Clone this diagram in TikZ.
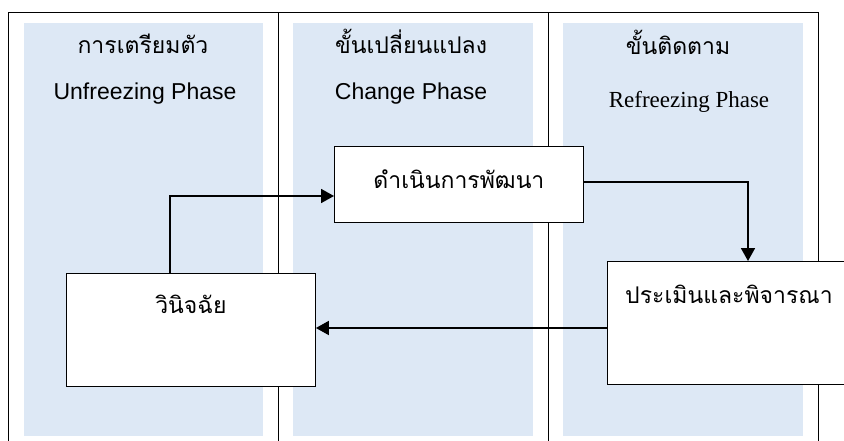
\documentclass[tikz,border=0pt]{standalone}
\usepackage{fontspec}
\setmainfont{Liberation Sans}
\newfontfamily\thaifont[Script=Thai]{Loma}
\newfontfamily\timesfont{Liberation Serif}
\usetikzlibrary{arrows.meta}
\definecolor{phaseblue}{RGB}{221,232,245}
\tikzset{>={Triangle[length=13pt,width=14pt]},
  phase/.style={fill=phaseblue,draw=none},
  frame/.style={line width=1pt},
  headtext/.style={anchor=base,inner sep=0pt,font=\fontsize{23}{28}\selectfont},
  stagebox/.style={draw=black,line width=0.9pt,fill=white,inner sep=0pt,anchor=north west,
    font=\thaifont\fontsize{23}{28}\selectfont},
  flow/.style={line width=1.8pt,->}}

\begin{document}
\begin{tikzpicture}[x=1pt,y=-1pt]
\useasboundingbox (0,0) rectangle (844,441);
\fill[white] (0,0) rectangle (844,441);
% phase columns
\fill[phase] (24,23) rectangle (263,436);
\fill[phase] (293,23) rectangle (533,436);
\fill[phase] (563,23) rectangle (803,436);
\draw[frame] (8,441) -- (8,13) -- (818,13) -- (818,441);
\draw[frame] (278,13) -- (278,441);
\draw[frame] (548,13) -- (548,441);

\node[headtext] at (143,54) (h1) {\thaifont การเตรียมตัว};
\node[headtext] at (145,100) (e1) {Unfreezing Phase};
\node[headtext] at (411,54) (h2) {\thaifont ขั้นเปลี่ยนแปลง};
\node[headtext] at (411,100) (e2) {Change Phase};
\node[headtext] at (678,55) (h3) {\thaifont ขั้นติดตาม};
\node[headtext] at (689,108) (e3) {\timesfont Refreezing Phase};

% stages
\node[stagebox,minimum width=249pt,text height=40pt,text depth=73pt] at (66,273) (a) {วินิจฉัย};
\node[stagebox,minimum width=249pt,text height=42pt,text depth=34pt] at (334,146) (b) {ดำเนินการพัฒนา};
\node[stagebox,minimum width=243pt,text height=42pt,text depth=81pt] at (607,261) (c) {ประเมินและพิจารณา};

\coordinate (p1) at (170,196);
\coordinate (p2) at (748,182);
\coordinate (p3) at (0,328);
\draw[flow] (p1 |- a.north) -- (p1) -- (p1 -| b.west);
\draw[flow] (p2 -| b.east) -- (p2) -- (p2 |- c.north);
\draw[flow] (p3 -| c.west) -- (p3 -| a.east);
\end{tikzpicture}
\end{document}
